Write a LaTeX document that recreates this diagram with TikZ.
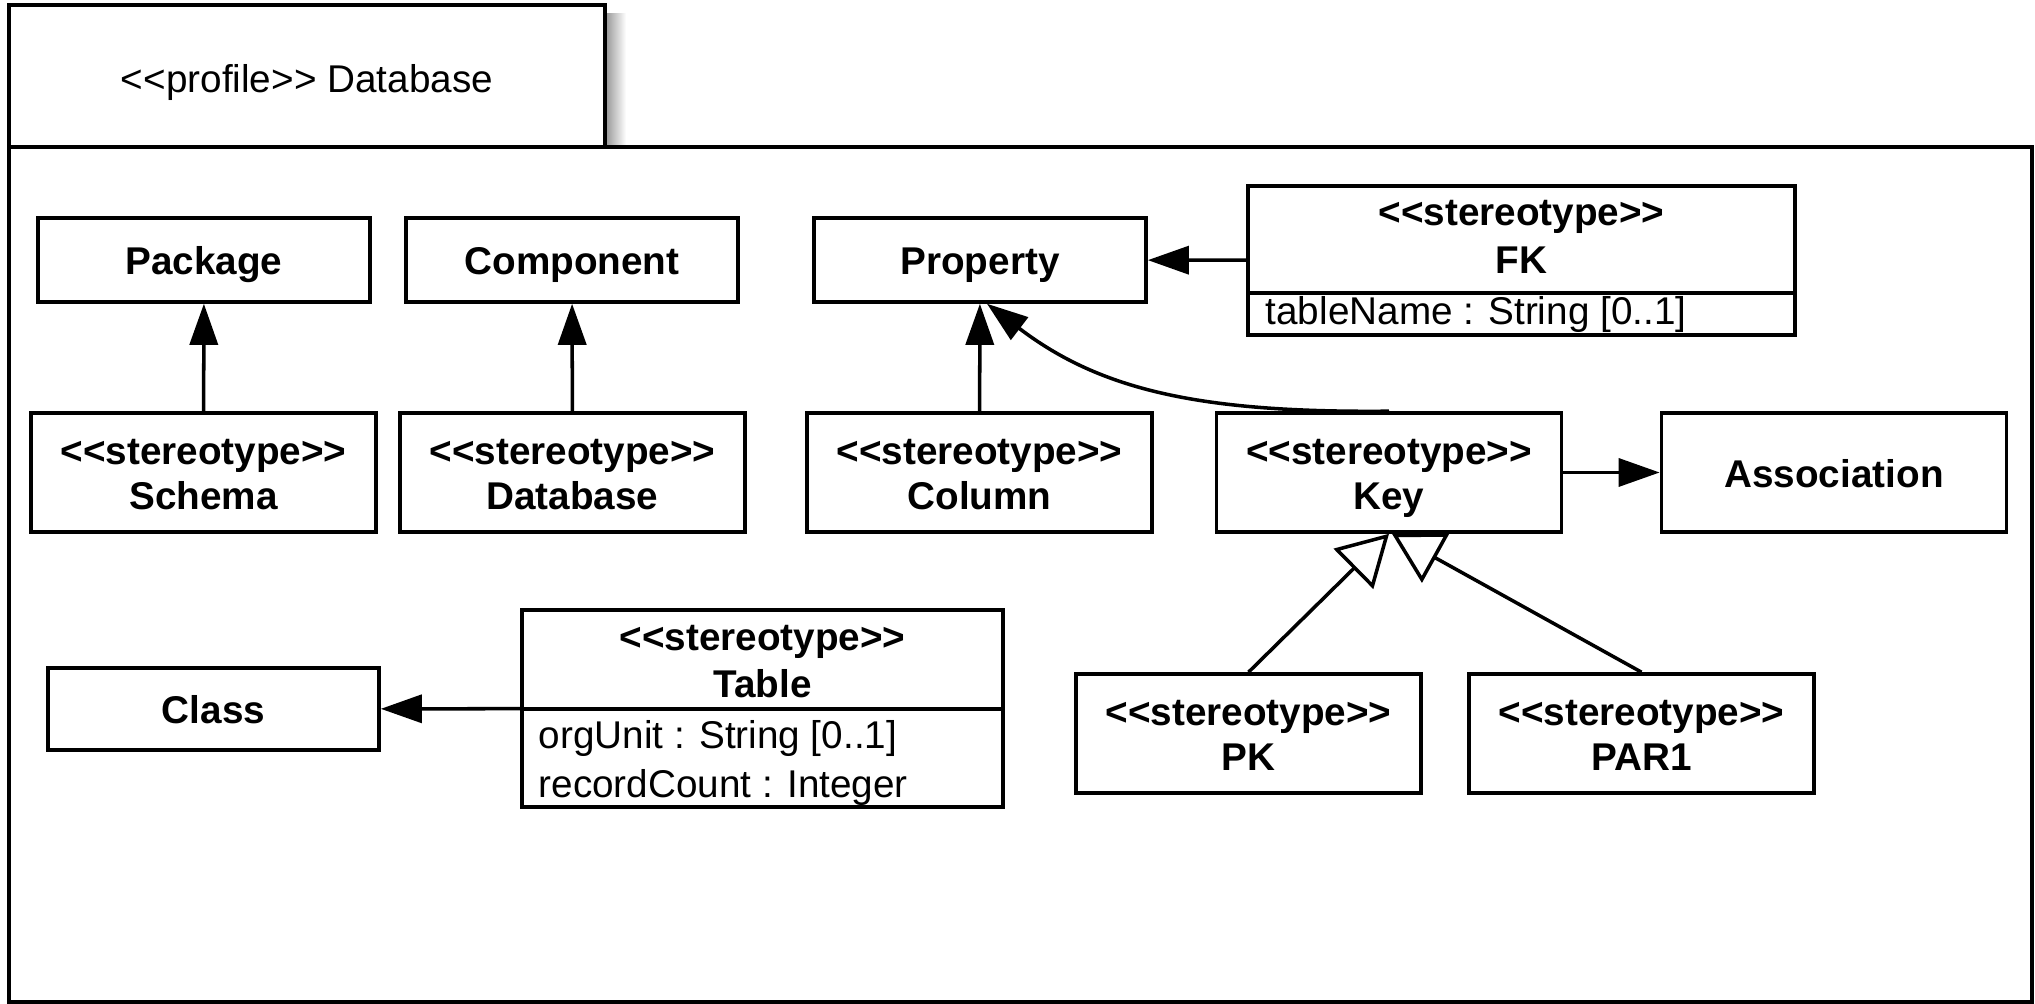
\documentclass[tikz,border=0pt]{standalone}
\usepackage{fontspec}
\setmainfont{Liberation Sans}[Ligatures=TeXOff]
\usetikzlibrary{arrows.meta}
\begin{document}
\begin{tikzpicture}[x=0.01cm, y=-0.01cm,
  umlbox/.style={draw, line width=1pt, fill=white, inner sep=0pt},
  smallbox/.style={umlbox, minimum width=3.32cm, minimum height=0.84cm},
  stbox/.style={umlbox, minimum width=3.45cm, minimum height=1.19cm},
  bname/.style={anchor=base, inner sep=0pt, font=\fontsize{11}{13}\selectfont\bfseries},
  attr/.style={anchor=base west, inner sep=0pt, font=\fontsize{11}{13}\selectfont},
  rule/.style={line width=1pt},
  gen/.style={line width=1pt, -{Triangle[length=0.41cm, width=0.28cm]}},
  ext/.style={line width=1pt, -{Triangle[open, length=0.5cm, width=0.56cm]}}]
\useasboundingbox (0,0) rectangle (2035,1004);

% profile frame: tab with soft shadow, then body
\shade[left color=black!40, right color=white] (606,14) rectangle (626,146);
\node[umlbox, minimum width=5.96cm, minimum height=1.42cm] (tab) at (307,76) {};
\node[anchor=base, inner sep=0pt, font=\fontsize{11}{13}\selectfont] (tabtext) at (307,93) {<<profile>> Database};
\draw[rule] (9,147) rectangle (2032,1002);

% metaclasses
\node[smallbox] (package)   at (204,260) {};
\node[smallbox] (component) at (572,260) {};
\node[smallbox] (property)  at (980,260) {};
\node[umlbox, minimum width=3.31cm, minimum height=0.82cm] (class) at (213.5,709) {};
\node[stbox] (association) at (1834,472.5) {};
\node[bname] (package-n)   at (204,275) {Package};
\node[bname] (component-n) at (572,275) {Component};
\node[bname] (property-n)  at (980,275) {Property};
\node[bname] (class-n)     at (213.5,724) {Class};
\node[bname] (association-n) at (1834,488) {Association};

% stereotype FK with its attribute compartment
\node[umlbox, minimum width=5.47cm, minimum height=1.49cm] (fk) at (1521.5,260.5) {};
\node[bname] (fk-s) at (1521.5,226) {<<stereotype>>};
\node[bname] (fk-n) at (1521.5,274) {FK};
\coordinate (fkdiv) at (0,293);
\draw[rule] (fk.west |- fkdiv) -- (fk.east |- fkdiv);
\node[attr] (fk-a) at (1265,325) {tableName : String [0..1]};

% stereotypes with two-line names
\node[stbox] (schema)   at (203.5,472.5) {};
\node[stbox] (database) at (572.5,472.5) {};
\node[stbox] (column)   at (979.5,472.5) {};
\node[stbox] (key)      at (1389,472.5)  {};
\node[stbox] (pk)       at (1248.5,733.5) {};
\node[stbox] (par1)     at (1641.5,733.5) {};
\node[bname] (schema-s)   at (203.5,465) {<<stereotype>>};
\node[bname] (schema-n)   at (203.5,510) {Schema};
\node[bname] (database-s) at (572.5,465) {<<stereotype>>};
\node[bname] (database-n) at (572.5,510) {Database};
\node[bname] (column-s)   at (979.5,465) {<<stereotype>>};
\node[bname] (column-n)   at (979.5,510) {Column};
\node[bname] (key-s)      at (1389,465)  {<<stereotype>>};
\node[bname] (key-n)      at (1389,510)  {Key};
\node[bname] (pk-s)       at (1248.5,726) {<<stereotype>>};
\node[bname] (pk-n)       at (1248.5,771) {PK};
\node[bname] (par1-s)     at (1641.5,726) {<<stereotype>>};
\node[bname] (par1-n)     at (1641.5,771) {PAR1};

% stereotype Table with its attribute compartment
\node[umlbox, minimum width=4.81cm, minimum height=1.97cm] (table) at (762.5,708.5) {};
\node[bname] (table-s) at (762.5,651) {<<stereotype>>};
\node[bname] (table-n) at (762.5,698) {Table};
\coordinate (tabdiv) at (0,709);
\draw[rule] (table.west |- tabdiv) -- (table.east |- tabdiv);
\node[attr] (table-a1) at (538,749) {orgUnit : String [0..1]};
\node[attr] (table-a2) at (538,798) {recordCount : Integer};

% extensions
\draw[gen] (schema) -- (package);
\draw[gen] (database) -- (component);
\draw[gen] (column) -- (property);
\draw[gen] (fk) -- (property);
\draw[gen] (key) -- (association);
\draw[gen] (table) -- (class);
\draw[gen] (key.north) .. controls (1200,413) and (1100,390) .. ([xshift=0.07cm]property.south);

% generalizations
\draw[ext] (pk.north) -- (key.south);
\draw[ext] (par1.north) -- ([xshift=0.03cm]key.south);
\end{tikzpicture}
\end{document}
